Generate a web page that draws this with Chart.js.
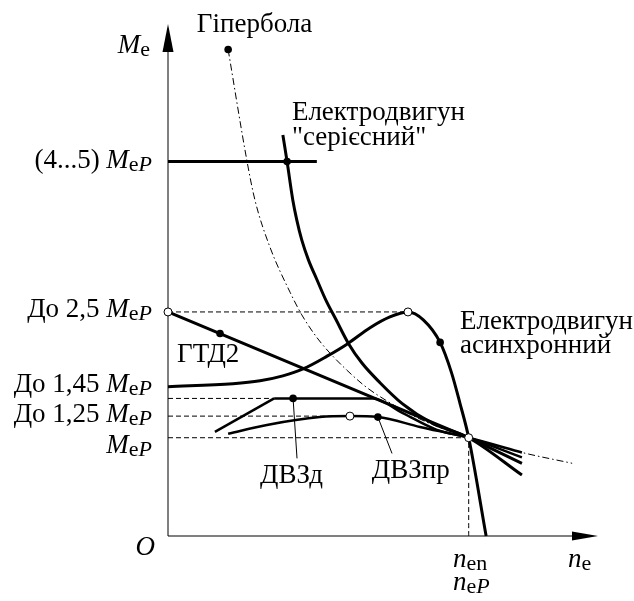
<!DOCTYPE html>
<html>
<head>
<meta charset="utf-8">
<script src="https://cdn.jsdelivr.net/npm/chart.js"></script>
<style>
body{margin:0;background:#fff;}
#wrap{width:634px;height:601px;}
</style>
</head>
<body>
<div id="wrap"><canvas id="myChart"></canvas></div>
<script>
// n/n_eP і M/M_eP
var hypN = [0.20, 0.263, 0.289, 0.339, 0.406, 0.445, 0.495, 0.539, 0.594, 0.649, 0.694, 0.838, 1.0, 1.177, 1.344];
var hypM = [4.95, 3.81, 3.42, 2.94, 2.48, 2.25, 2.02, 1.86, 1.69, 1.54, 1.44, 1.19, 1.0, 0.85, 0.74];

var serN = [0.382, 0.396, 0.415, 0.428, 0.445, 0.467, 0.495, 0.525, 0.559, 0.600, 0.645, 0.705, 0.778, 0.878, 1.0, 1.177];
var serM = [4.08, 3.81, 3.42, 3.22, 3.01, 2.81, 2.61, 2.40, 2.20, 1.96, 1.76, 1.56, 1.35, 1.15, 1.0, 0.62];

var asN = [0, 0.216, 0.306, 0.382, 0.449, 0.529, 0.599, 0.672, 0.738, 0.798, 0.849, 0.905, 0.943, 0.971, 1.0, 1.058];
var asM = [1.52, 1.55, 1.58, 1.63, 1.70, 1.83, 1.96, 2.12, 2.23, 2.28, 2.20, 1.97, 1.66, 1.35, 1.0, 0];

var gtdN = [0, 0.173, 1.0, 1.177];
var gtdM = [2.28, 2.06, 1.0, 0.74];

var dvzdN = [0.156, 0.353, 0.416, 0.682, 0.781, 0.894, 1.0, 1.177];
var dvzdM = [1.06, 1.40, 1.40, 1.40, 1.25, 1.08, 1.0, 0.80];

var dvzprN = [0.20, 0.329, 0.505, 0.605, 0.698, 0.838, 1.0, 1.177];
var dvzprM = [1.04, 1.13, 1.21, 1.22, 1.21, 1.11, 1.0, 0.85];

var limN = [0, 0.495];
var limM = 3.81;

// пунктирні рівні моменту і де вони закінчуються
var levelM = [2.28, 1.40, 1.22, 1.0];
var levelEnd = [0.798, 0.353, 0.605, 1.0];

var filledN = [0.20, 0.396, 0.173, 0.905, 0.416, 0.698];
var filledM = [4.95, 3.81, 2.06, 1.97, 1.40, 1.21];
var openN = [0, 0.798, 0.605, 1.0];
var openM = [2.28, 2.28, 1.22, 1.0];

var yTickText = ['(4...5) ', 'До 2,5 ', 'До 1,45 ', 'До 1,25 ', ''];

function pts(xs, ys) {
    return xs.map(function (x, i) { return {x: x, y: ys[i]}; });
}

function line(data, opts) {
    return Object.assign({
        data: data, borderColor: '#000', borderWidth: 3, pointRadius: 0,
        fill: false, cubicInterpolationMode: 'monotone', clip: false, order: 2
    }, opts || {});
}

var datasets = [];
datasets.push(line(pts(hypN, hypM), {borderWidth: 1, borderDash: [7, 3, 1.5, 3]}));
levelM.forEach(function (m, i) {
    datasets.push(line([{x: 0, y: m}, {x: levelEnd[i], y: m}], {borderWidth: 1, borderDash: [5, 3], tension: 0}));
});
datasets.push(line([{x: 1, y: 0}, {x: 1, y: 1}], {borderWidth: 1, borderDash: [5, 3], tension: 0}));
datasets.push(line(pts(limN, [limM, limM]), {tension: 0}));
datasets.push(line(pts(serN, serM)));
datasets.push(line(pts(asN, asM)));
datasets.push(line(pts(gtdN, gtdM), {tension: 0, cubicInterpolationMode: 'default'}));
datasets.push(line(pts(dvzdN.slice(0, 2), dvzdM.slice(0, 2)), {tension: 0, cubicInterpolationMode: 'default', borderWidth: 2.5}));
datasets.push(line(pts(dvzdN.slice(1), dvzdM.slice(1)), {borderWidth: 2.5}));
datasets.push(line(pts(dvzprN, dvzprM), {borderWidth: 2.5}));
// виноски до підписів ДВЗ
datasets.push(line([{x: 0.416, y: 1.40}, {x: 0.429, y: 0.79}], {borderWidth: 1, tension: 0}));
datasets.push(line([{x: 0.698, y: 1.21}, {x: 0.745, y: 0.84}], {borderWidth: 1, tension: 0}));
datasets.push({data: pts(filledN, filledM), showLine: false, pointRadius: 3.8, pointBackgroundColor: '#000',
    pointBorderColor: '#000', pointBorderWidth: 0, clip: false, order: 0});
datasets.push({data: pts(openN, openM), showLine: false, pointRadius: 4, pointBackgroundColor: '#fff',
    pointBorderColor: '#000', pointBorderWidth: 1, clip: false, order: 0});

var SIZE = 27, SUB = 22;

function fontOf(style) {
    var f = (style.indexOf('s') >= 0 ? SUB : SIZE) + 'px "Liberation Serif"';
    return style.indexOf('i') >= 0 ? 'italic ' + f : f;
}

function drawRuns(ctx, runs, x, y, align) {
    var w = 0;
    runs.forEach(function (r) {
        ctx.font = fontOf(r[1]);
        r.w = ctx.measureText(r[0]).width;
        w += r.w;
    });
    var cx = align === 'right' ? x - w : x;
    runs.forEach(function (r) {
        ctx.font = fontOf(r[1]);
        ctx.fillText(r[0], cx, y + (r[1].indexOf('s') >= 0 ? 3 : 0));
        cx += r.w;
    });
}

var axesPlugin = {
    id: 'axes',
    beforeDatasetsDraw: function (chart) {
        var ctx = chart.ctx, a = chart.chartArea;
        var x0 = chart.scales.x.getPixelForValue(0), y0 = chart.scales.y.getPixelForValue(0);
        ctx.save();
        ctx.strokeStyle = '#000';
        ctx.fillStyle = '#000';
        ctx.lineWidth = 1;
        ctx.beginPath();
        ctx.moveTo(x0, y0); ctx.lineTo(a.right - 20, y0);
        ctx.moveTo(x0, y0); ctx.lineTo(x0, a.top + 20);
        ctx.stroke();
        ctx.beginPath();
        ctx.moveTo(a.right, y0); ctx.lineTo(a.right - 26, y0 - 4.5); ctx.lineTo(a.right - 26, y0 + 4.5);
        ctx.closePath(); ctx.fill();
        ctx.beginPath();
        ctx.moveTo(x0, a.top - 1); ctx.lineTo(x0 - 5.5, a.top + 27); ctx.lineTo(x0 + 5.5, a.top + 27);
        ctx.closePath(); ctx.fill();
        ctx.restore();
    },
    afterDatasetsDraw: function (chart) {
        var ctx = chart.ctx, sx = chart.scales.x, sy = chart.scales.y;
        function put(n, m, align, runs) {
            drawRuns(ctx, runs, sx.getPixelForValue(n), sy.getPixelForValue(m), align);
        }
        ctx.save();
        ctx.fillStyle = '#000';
        ctx.textBaseline = 'alphabetic';
        ctx.textAlign = 'left';
        var tickBase = [3.745, 2.229, 1.465, 1.160, 0.845];
        yTickText.forEach(function (t, i) {
            put(-0.053, tickBase[i], 'right', [[t, 'r'], ['M', 'i'], ['e', 's'], ['P', 'si']]);
        });
        put(0.096, 5.13, 'left', [['Гіпербола', 'r']]);
        put(-0.060, 4.915, 'right', [['M', 'i'], ['e', 's']]);
        put(0.412, 4.233, 'left', [['Електродвигун', 'r']]);
        put(0.412, 3.979, 'left', [['"серієсний"', 'r']]);
        put(0.971, 2.106, 'left', [['Електродвигун', 'r']]);
        put(0.971, 1.862, 'left', [['асинхронний', 'r']]);
        put(0.030, 1.771, 'left', [['ГТД2', 'r']]);
        put(0.306, 0.539, 'left', [['ДВЗд', 'r']]);
        put(0.678, 0.590, 'left', [['ДВЗпр', 'r']]);
        put(-0.043, -0.193, 'right', [['O', 'i']]);
        put(0.948, -0.315, 'left', [['n', 'i'], ['en', 's']]);
        put(0.948, -0.550, 'left', [['n', 'i'], ['e', 's'], ['P', 'si']]);
        put(1.330, -0.315, 'left', [['n', 'i'], ['e', 's']]);
        ctx.restore();
    }
};

new Chart('myChart', {
    type: 'line',
    data: {datasets: datasets},
    options: {
        responsive: true,
        maintainAspectRatio: false,
        animation: false,
        layout: {padding: {left: 168, right: 36, top: 25, bottom: 65}},
        scales: {
            x: {type: 'linear', min: 0, max: 1.43, display: false},
            y: {type: 'linear', min: 0, max: 5.2, display: false}
        },
        plugins: {legend: {display: false}, tooltip: {enabled: false}}
    },
    plugins: [axesPlugin]
});
</script>
</body>
</html>
